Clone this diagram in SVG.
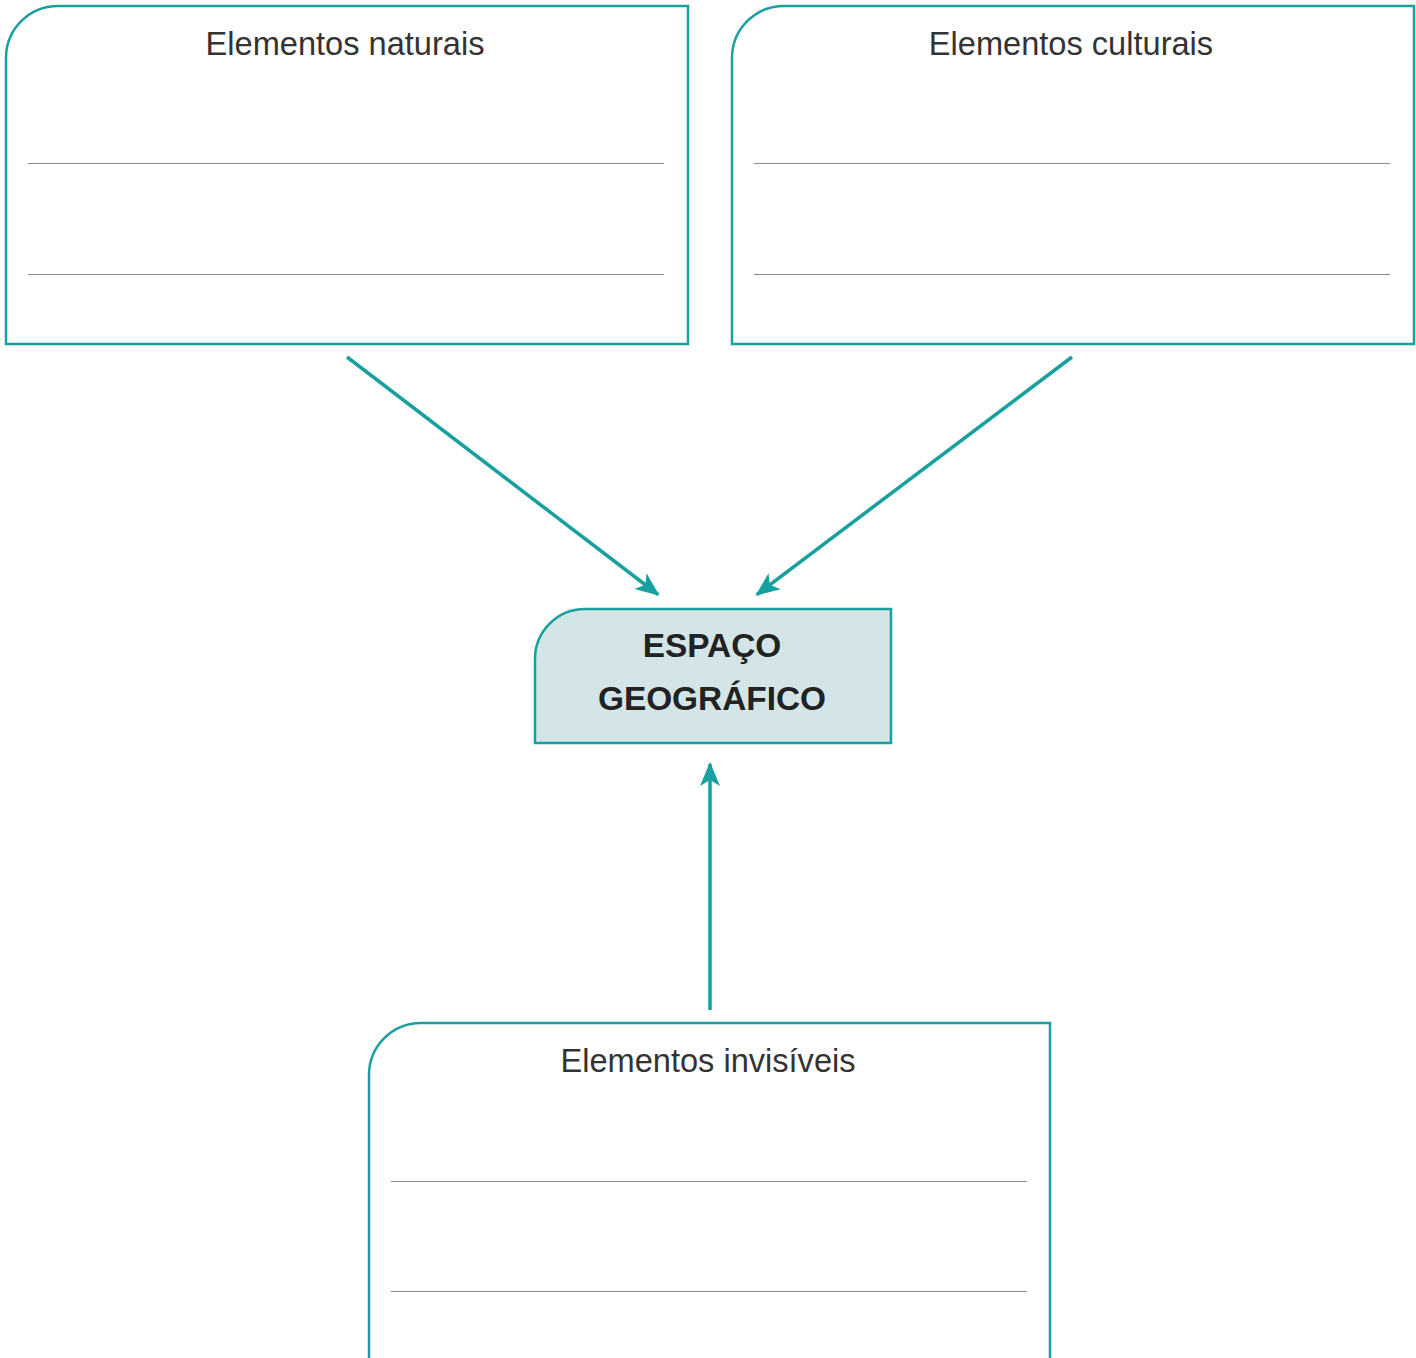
<svg xmlns="http://www.w3.org/2000/svg" width="1416" height="1358" viewBox="0 0 1416 1358">
<style>
.box{fill:#fff;stroke:#17a09f;stroke-width:2.5}
.core{fill:#d3e5e6;stroke:#17a09f;stroke-width:2.5}
.rule{stroke:#8a8a8a;stroke-width:1.2}
.title{font-family:"Liberation Sans",Arial,sans-serif;font-size:32.6px;fill:#333;text-anchor:middle}
.bold{font-family:"Liberation Sans",Arial,sans-serif;font-size:33.4px;font-weight:bold;fill:#222;text-anchor:middle}
.conn{stroke:#17a09f;stroke-width:3.5;fill:none}
</style>
<defs>
<marker id="ah" markerUnits="userSpaceOnUse" markerWidth="30" markerHeight="30" refX="22" refY="10" orient="auto" viewBox="0 0 30 20">
<path d="M0,0 L24,10 L0,20 L6,10 Z" fill="#17a09f"/>
</marker>
</defs>
<rect width="1416" height="1358" fill="#fff"/>
<g id="naturais">
<path class="box" d="M6,344 V58 A52,52 0 0 1 58,6 H688 V344 Z"/>
<line class="rule" x1="28" y1="163.5" x2="664" y2="163.5"/>
<line class="rule" x1="28" y1="274.5" x2="664" y2="274.5"/>
<text class="title" x="345" y="55">Elementos naturais</text>
</g>
<g id="culturais">
<path class="box" d="M732,344 V58 A52,52 0 0 1 784,6 H1414 V344 Z"/>
<line class="rule" x1="754" y1="163.5" x2="1390" y2="163.5"/>
<line class="rule" x1="754" y1="274.5" x2="1390" y2="274.5"/>
<text class="title" x="1071" y="55">Elementos culturais</text>
</g>
<g id="espaco">
<path class="core" d="M535,743 V659 A50,50 0 0 1 585,609 H891 V743 Z"/>
<text class="bold" x="712" y="657">ESPAÇO</text>
<text class="bold" x="712" y="710">GEOGRÁFICO</text>
</g>
<g id="invisiveis">
<path class="box" d="M369,1360 V1075 A52,52 0 0 1 421,1023 H1050 V1360"/>
<line class="rule" x1="391" y1="1181.5" x2="1027" y2="1181.5"/>
<line class="rule" x1="391" y1="1291.5" x2="1027" y2="1291.5"/>
<text class="title" x="708" y="1072">Elementos invisíveis</text>
</g>
<g id="connectors">
<line class="conn" x1="347" y1="357" x2="658" y2="594.5" marker-end="url(#ah)"/>
<line class="conn" x1="1072" y1="357" x2="757" y2="594.5" marker-end="url(#ah)"/>
<line class="conn" x1="710" y1="1010" x2="710" y2="764" marker-end="url(#ah)"/>
</g>
</svg>
